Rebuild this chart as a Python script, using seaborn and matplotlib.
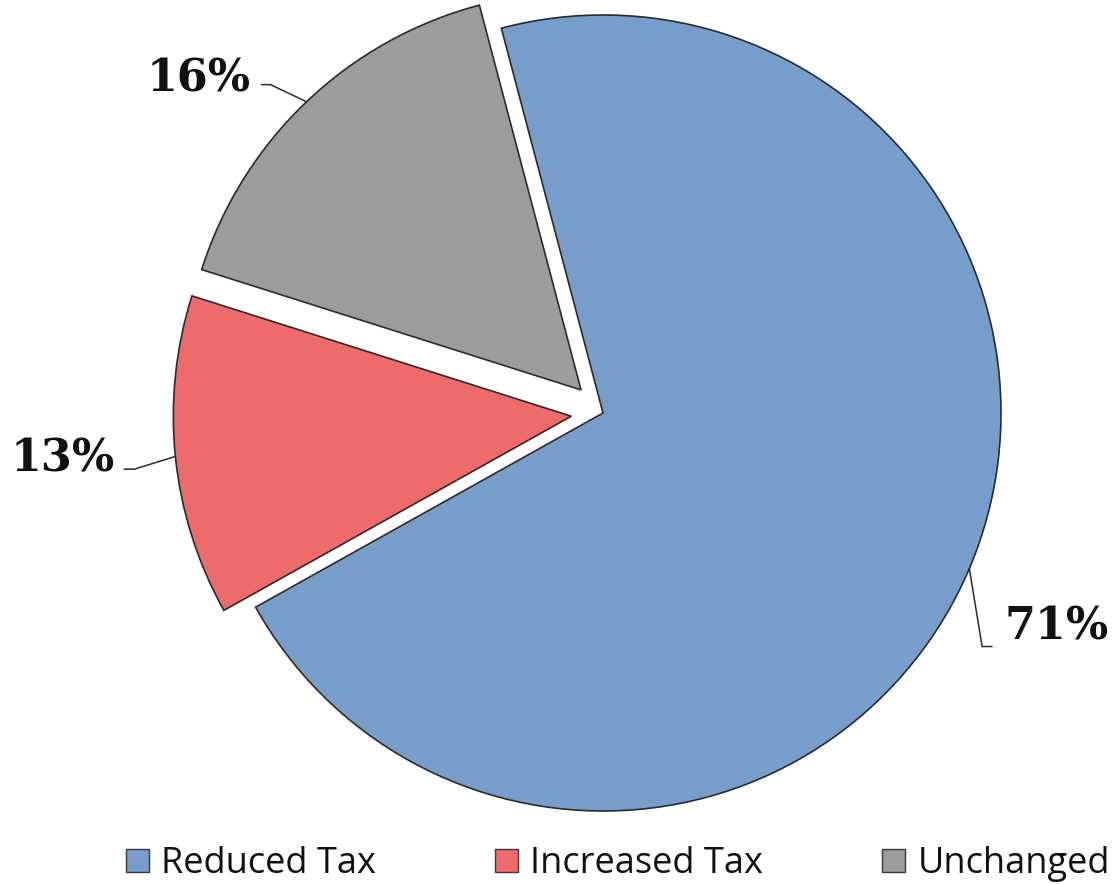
import numpy as np
import matplotlib
matplotlib.use("Agg")
import matplotlib.pyplot as plt
import seaborn as sns

# Share of respondents by tax outcome
categories = ["Reduced Tax", "Increased Tax", "Unchanged"]
shares = [71, 13, 16]
labels = ["71%", "13%", "16%"]
colors = ["#779DCB", "#EE6B6B", "#9C9C9C"]
explode = [0.0, 0.08, 0.08]

sns.set_theme(style="white")
plt.rcParams["font.family"] = ["Open Sans", "DejaVu Sans"]

W, H = 1119, 884
fig = plt.figure(figsize=(W / 100, H / 100), dpi=100)
ax = fig.add_axes([0, 0, 1, 1])

start = 104.8
wedges, _ = ax.pie(
    shares, colors=colors, explode=explode, startangle=start,
    counterclock=False, radius=1.0,
    wedgeprops=dict(edgecolor="#2b2b2b", linewidth=1.2),
)

# pie centre and radius in pixels -> data limits with radius 1
cx, cy, R = 603, 413, 398
ax.set_aspect("auto")
ax.set_xlim(-cx / R, (W - cx) / R)
ax.set_ylim(-(H - cy) / R, cy / R)
ax.axis("off")

# leader lines and value labels: (elbow offset, end offset, text anchor, ha)
label_cfg = [
    dict(elbow=(0.032, -0.196), end=(0.057, -0.196), text=(0.088, -0.148), ha="left"),
    dict(elbow=(-0.103, -0.032), end=(-0.129, -0.032), text=(-0.151, -0.006), ha="right"),
    dict(elbow=(-0.091, 0.043), end=(-0.113, 0.043), text=(-0.140, 0.057), ha="right"),
]

for w, lab, cfg, ex in zip(wedges, labels, label_cfg, explode):
    mid = np.deg2rad((w.theta1 + w.theta2) / 2)
    ox, oy = ex * np.cos(mid), ex * np.sin(mid)
    sx, sy = ox + np.cos(mid), oy + np.sin(mid)
    ex_, ey_ = sx + cfg["elbow"][0], sy + cfg["elbow"][1]
    fx, fy = sx + cfg["end"][0], sy + cfg["end"][1]
    ax.plot([sx, ex_, fx], [sy, ey_, fy], color="#2b2b2b", lw=1.1, solid_joinstyle="miter")
    ax.text(sx + cfg["text"][0], sy + cfg["text"][1], lab, ha=cfg["ha"], va="center",
            fontsize=32, fontweight="bold", family="DejaVu Serif", color="#111111")

handles = [plt.Rectangle((0, 0), 1, 1, facecolor=c, edgecolor="#3a3a3a", linewidth=1.0)
           for c in colors]
fig.legend(handles, categories, loc="center", bbox_to_anchor=(618 / W, 1 - 864 / H),
           ncol=3, frameon=False, fontsize=26, handlelength=0.62, handleheight=0.62,
           handletextpad=0.35, columnspacing=3.3, labelcolor="#111111")

fig.savefig("out.png", dpi=100, facecolor="white")
